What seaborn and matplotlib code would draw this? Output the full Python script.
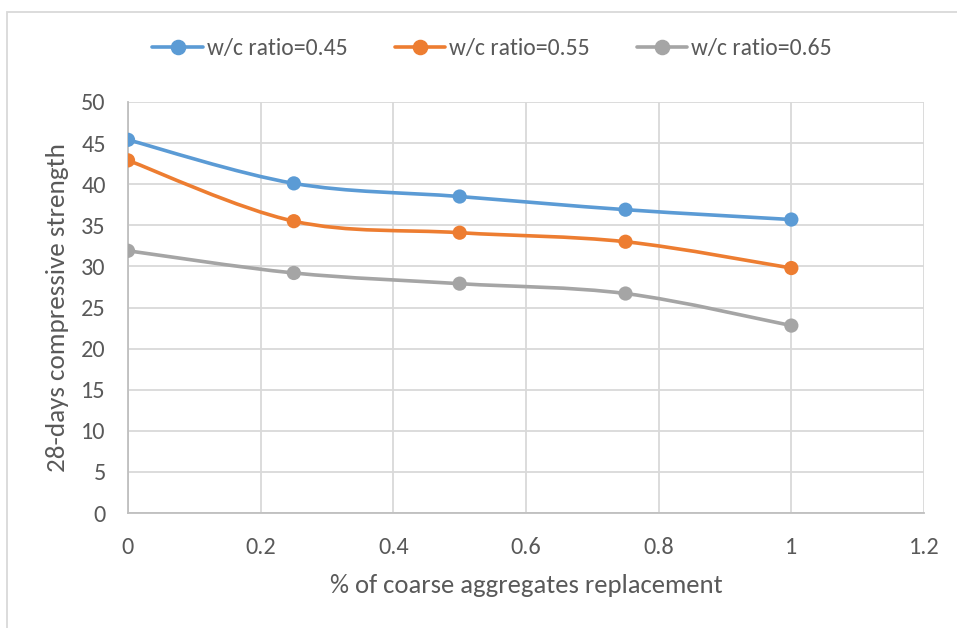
import numpy as np
import pandas as pd
import matplotlib
matplotlib.use("Agg")
import matplotlib.pyplot as plt
import seaborn as sns
from matplotlib.path import Path
from matplotlib.patches import PathPatch, Rectangle
from matplotlib.lines import Line2D

# ---- data ----
replacement = [0, 0.25, 0.5, 0.75, 1]
wc_045 = [45.4, 40.1, 38.5, 36.9, 35.7]
wc_055 = [42.9, 35.5, 34.1, 33.0, 29.8]
wc_065 = [31.9, 29.2, 27.9, 26.7, 22.8]
series_names = ["w/c ratio=0.45", "w/c ratio=0.55", "w/c ratio=0.65"]
colors = ["#5B9BD5", "#ED7D31", "#A5A5A5"]
x_ticks = [0, 0.2, 0.4, 0.6, 0.8, 1.0, 1.2]
x_tick_labels = ["0", "0.2", "0.4", "0.6", "0.8", "1", "1.2"]
y_ticks = [0, 5, 10, 15, 20, 25, 30, 35, 40, 45, 50]

df = pd.DataFrame({
    "x": replacement * 3,
    "y": wc_045 + wc_055 + wc_065,
    "series": [series_names[0]] * 5 + [series_names[1]] * 5 + [series_names[2]] * 5,
})

sns.set_theme(style="white")
plt.rcParams["font.family"] = ["Carlito", "DejaVu Sans"]
plt.rcParams["font.weight"] = "normal"
txt = "#595959"

fig = plt.figure(figsize=(9.57, 6.28), dpi=100)
fig.patch.set_facecolor("white")
# outer chart border (cropped at right and bottom)
fig.add_artist(Rectangle((7 / 957, -0.05), 1.1, (628 - 12) / 628 + 0.05,
                         transform=fig.transFigure, fill=False,
                         edgecolor="#d9d9d9", linewidth=1.3))

ax = fig.add_axes([128 / 957, 1 - 513 / 628, (924 - 128) / 957, (513 - 102) / 628])


def smooth_path(xs, ys):
    pts = np.column_stack([xs, ys]).astype(float)
    n = len(pts)
    verts = [pts[0]]
    codes = [Path.MOVETO]
    for i in range(n - 1):
        p0 = pts[i - 1] if i > 0 else pts[i]
        p1 = pts[i]
        p2 = pts[i + 1]
        p3 = pts[i + 2] if i + 2 < n else pts[i + 1]
        c1 = p1 + (p2 - p0) / 6.0
        c2 = p2 - (p3 - p1) / 6.0
        verts += [c1, c2, p2]
        codes += [Path.CURVE4] * 3
    return Path(verts, codes)


for name, col in zip(series_names, colors):
    sub = df[df["series"] == name]
    ax.add_patch(PathPatch(smooth_path(sub["x"].values, sub["y"].values),
                           facecolor="none", edgecolor=col, linewidth=2.6,
                           capstyle="round", zorder=3))

sns.scatterplot(data=df, x="x", y="y", hue="series", palette=colors,
                s=105, edgecolor="none", legend=False, ax=ax, zorder=4)

ax.set_xlim(0, 1.2)
ax.set_ylim(0, 50)
ax.set_xticks(x_ticks)
ax.set_xticklabels(x_tick_labels)
ax.set_yticks(y_ticks)
ax.grid(True, color="#d9d9d9", linewidth=1.3)
ax.set_axisbelow(True)
for s in ["top", "right"]:
    ax.spines[s].set_visible(False)
for s in ["left", "bottom"]:
    ax.spines[s].set_color("#bfbfbf")
    ax.spines[s].set_linewidth(1.3)
ax.tick_params(axis="both", length=0, colors=txt, labelsize=17.5)
ax.tick_params(axis="x", pad=17)
ax.tick_params(axis="y", pad=16)
ax.set_xlabel("% of coarse aggregates replacement", color=txt, fontsize=19.2, labelpad=12)
ax.set_ylabel("28-days compressive strength", color=txt, fontsize=19.5, labelpad=9)

handles = [Line2D([0], [0], color=c, lw=2.6, marker="o", markersize=10.2) for c in colors]
fig.legend(handles, series_names, loc="center", bbox_to_anchor=(492 / 957, 1 - 49 / 628),
           ncol=3, frameon=False, fontsize=17, labelcolor=txt, handlelength=2.15,
           handletextpad=0.15, columnspacing=2.0)

fig.savefig("out.png", dpi=100, facecolor="white")
